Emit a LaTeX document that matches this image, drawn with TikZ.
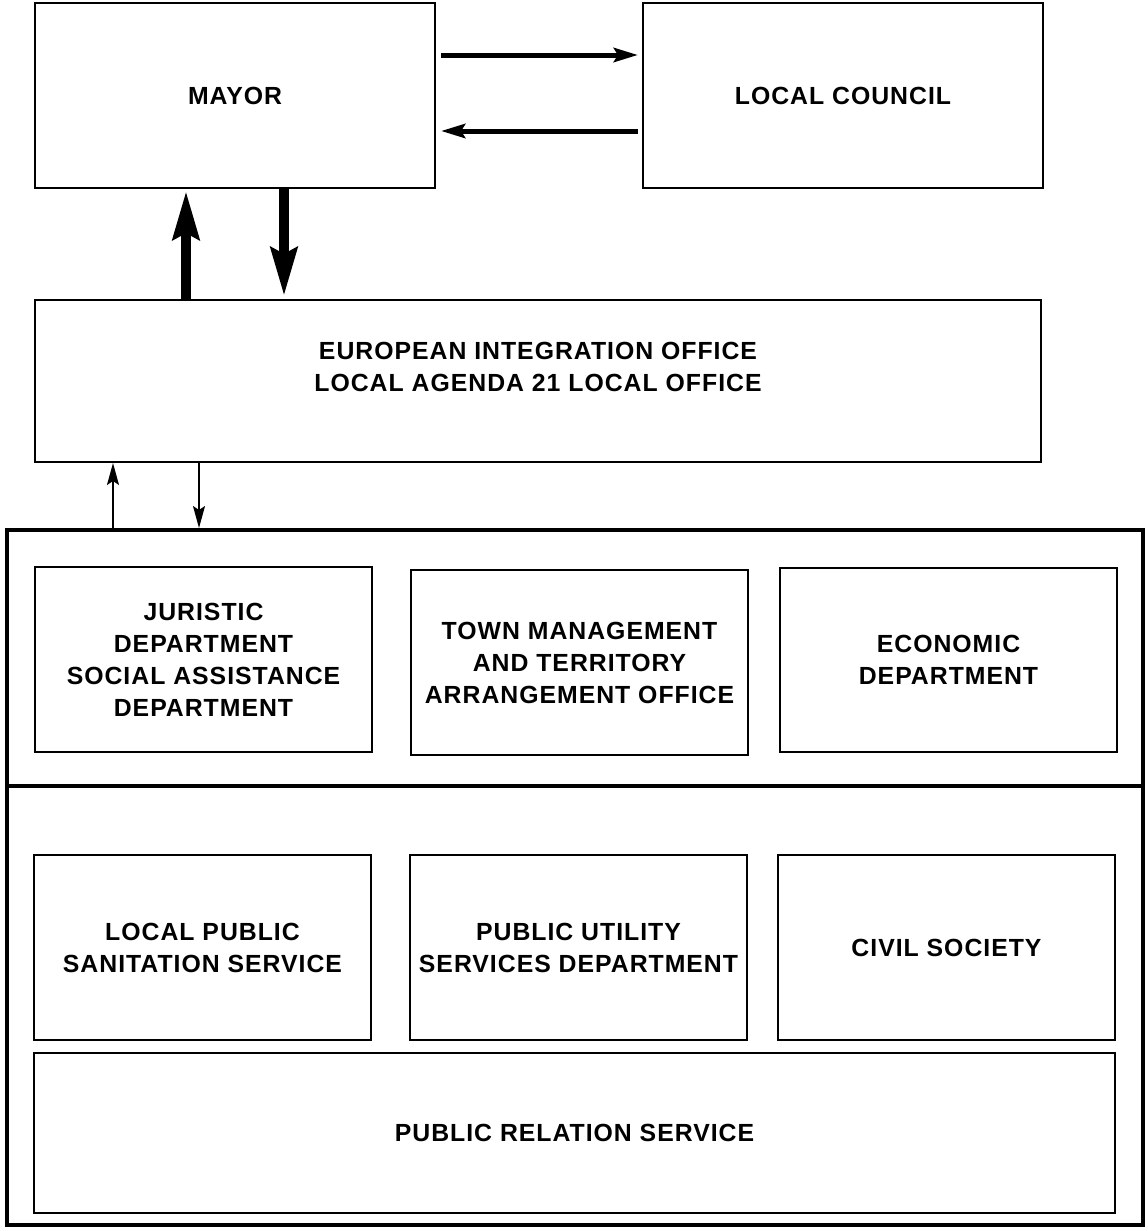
\documentclass[tikz,border=0pt]{standalone}
\usepackage{fontspec}
\setmainfont{Liberation Sans}
\newfontfamily\boxfont{Liberation Sans}[LetterSpace=4]
\usepackage{tikz}
\usetikzlibrary{arrows.meta,positioning}

\tikzset{
  boxtext/.style={inner sep=0pt,align=center,
    font=\boxfont\bfseries\fontsize{12.4}{16}\selectfont},
  box/.style={draw,line width=1pt,boxtext},
  frame/.style={draw,line width=2pt,inner sep=0pt},
  bigarrow/.style={line width=2.5pt,-{Stealth[length=12pt,width=7pt,inset=2pt]}},
  fatarrow/.style={line width=5pt,-{Stealth[length=24pt,width=13pt,inset=3pt]}},
  thinarrow/.style={line width=0.8pt,-{Stealth[length=11pt,width=6pt,inset=2pt]}}
}

\begin{document}
\begin{tikzpicture}[x=0.5pt,y=-0.5pt]
\useasboundingbox (0,0) rectangle (1147,1231);

\node[box,minimum width=200pt,minimum height=92.5pt] (mayor) at (235,95.5) {MAYOR};
\node[box,minimum width=200pt,minimum height=92.5pt] (council) at (843,95.5) {LOCAL COUNCIL};
\node[box,minimum width=503pt,minimum height=81pt] (eio) at (538,381) {};
\node[boxtext] (eiotext) at ([yshift=7pt]eio.center)
  {EUROPEAN INTEGRATION OFFICE\\LOCAL AGENDA 21 LOCAL OFFICE};

% departments
\node[frame,minimum width=568pt,minimum height=128pt] (dept) at (575,658) {};
\node[frame,minimum width=568pt,minimum height=219.5pt] (serv) at (575,1005.5) {};

\node[box,minimum width=168.5pt,minimum height=92.5pt] (jur) at (203.5,659.5)
  {JURISTIC\\DEPARTMENT\\SOCIAL ASSISTANCE\\DEPARTMENT};
\node[box,minimum width=168.5pt,minimum height=92.5pt] (town) at (579.5,662.5)
  {TOWN MANAGEMENT\\AND TERRITORY\\ARRANGEMENT OFFICE};
\node[box,minimum width=168.5pt,minimum height=92pt] (eco) at (948.5,660)
  {ECONOMIC\\DEPARTMENT};

\node[box,minimum width=168.5pt,minimum height=92.5pt] (sani) at (202.5,947.5)
  {LOCAL PUBLIC\\SANITATION SERVICE};
\node[box,minimum width=168.5pt,minimum height=92.5pt] (util) at (578.5,947.5)
  {PUBLIC UTILITY\\SERVICES DEPARTMENT};
\node[box,minimum width=168.5pt,minimum height=92.5pt] (civil) at (946.5,947.5)
  {CIVIL SOCIETY};
\node[box,minimum width=540.5pt,minimum height=80pt] (prs) at (574.5,1133)
  {PUBLIC RELATION SERVICE};

\draw[bigarrow] ([yshift=20.25pt,xshift=2.5pt]mayor.east) -- ([yshift=20.25pt,xshift=-2pt]council.west);
\draw[bigarrow] ([yshift=-17.75pt,xshift=-2pt]council.west) -- ([yshift=-17.75pt,xshift=2.5pt]mayor.east);

\draw[fatarrow] ([xshift=-24.5pt]mayor.south |- eio.north) -- ([xshift=-24.5pt,yshift=-1pt]mayor.south);
\draw[fatarrow] ([xshift=24.5pt]mayor.south) -- ([xshift=24.5pt,yshift=1.5pt]mayor.south |- eio.north);

\draw[thinarrow] ([xshift=39.5pt]eio.south west |- dept.north) -- ([xshift=39.5pt]eio.south west);
\draw[thinarrow] ([xshift=82.5pt]eio.south west) -- ([xshift=82.5pt]eio.south west |- dept.north);
\end{tikzpicture}
\end{document}
